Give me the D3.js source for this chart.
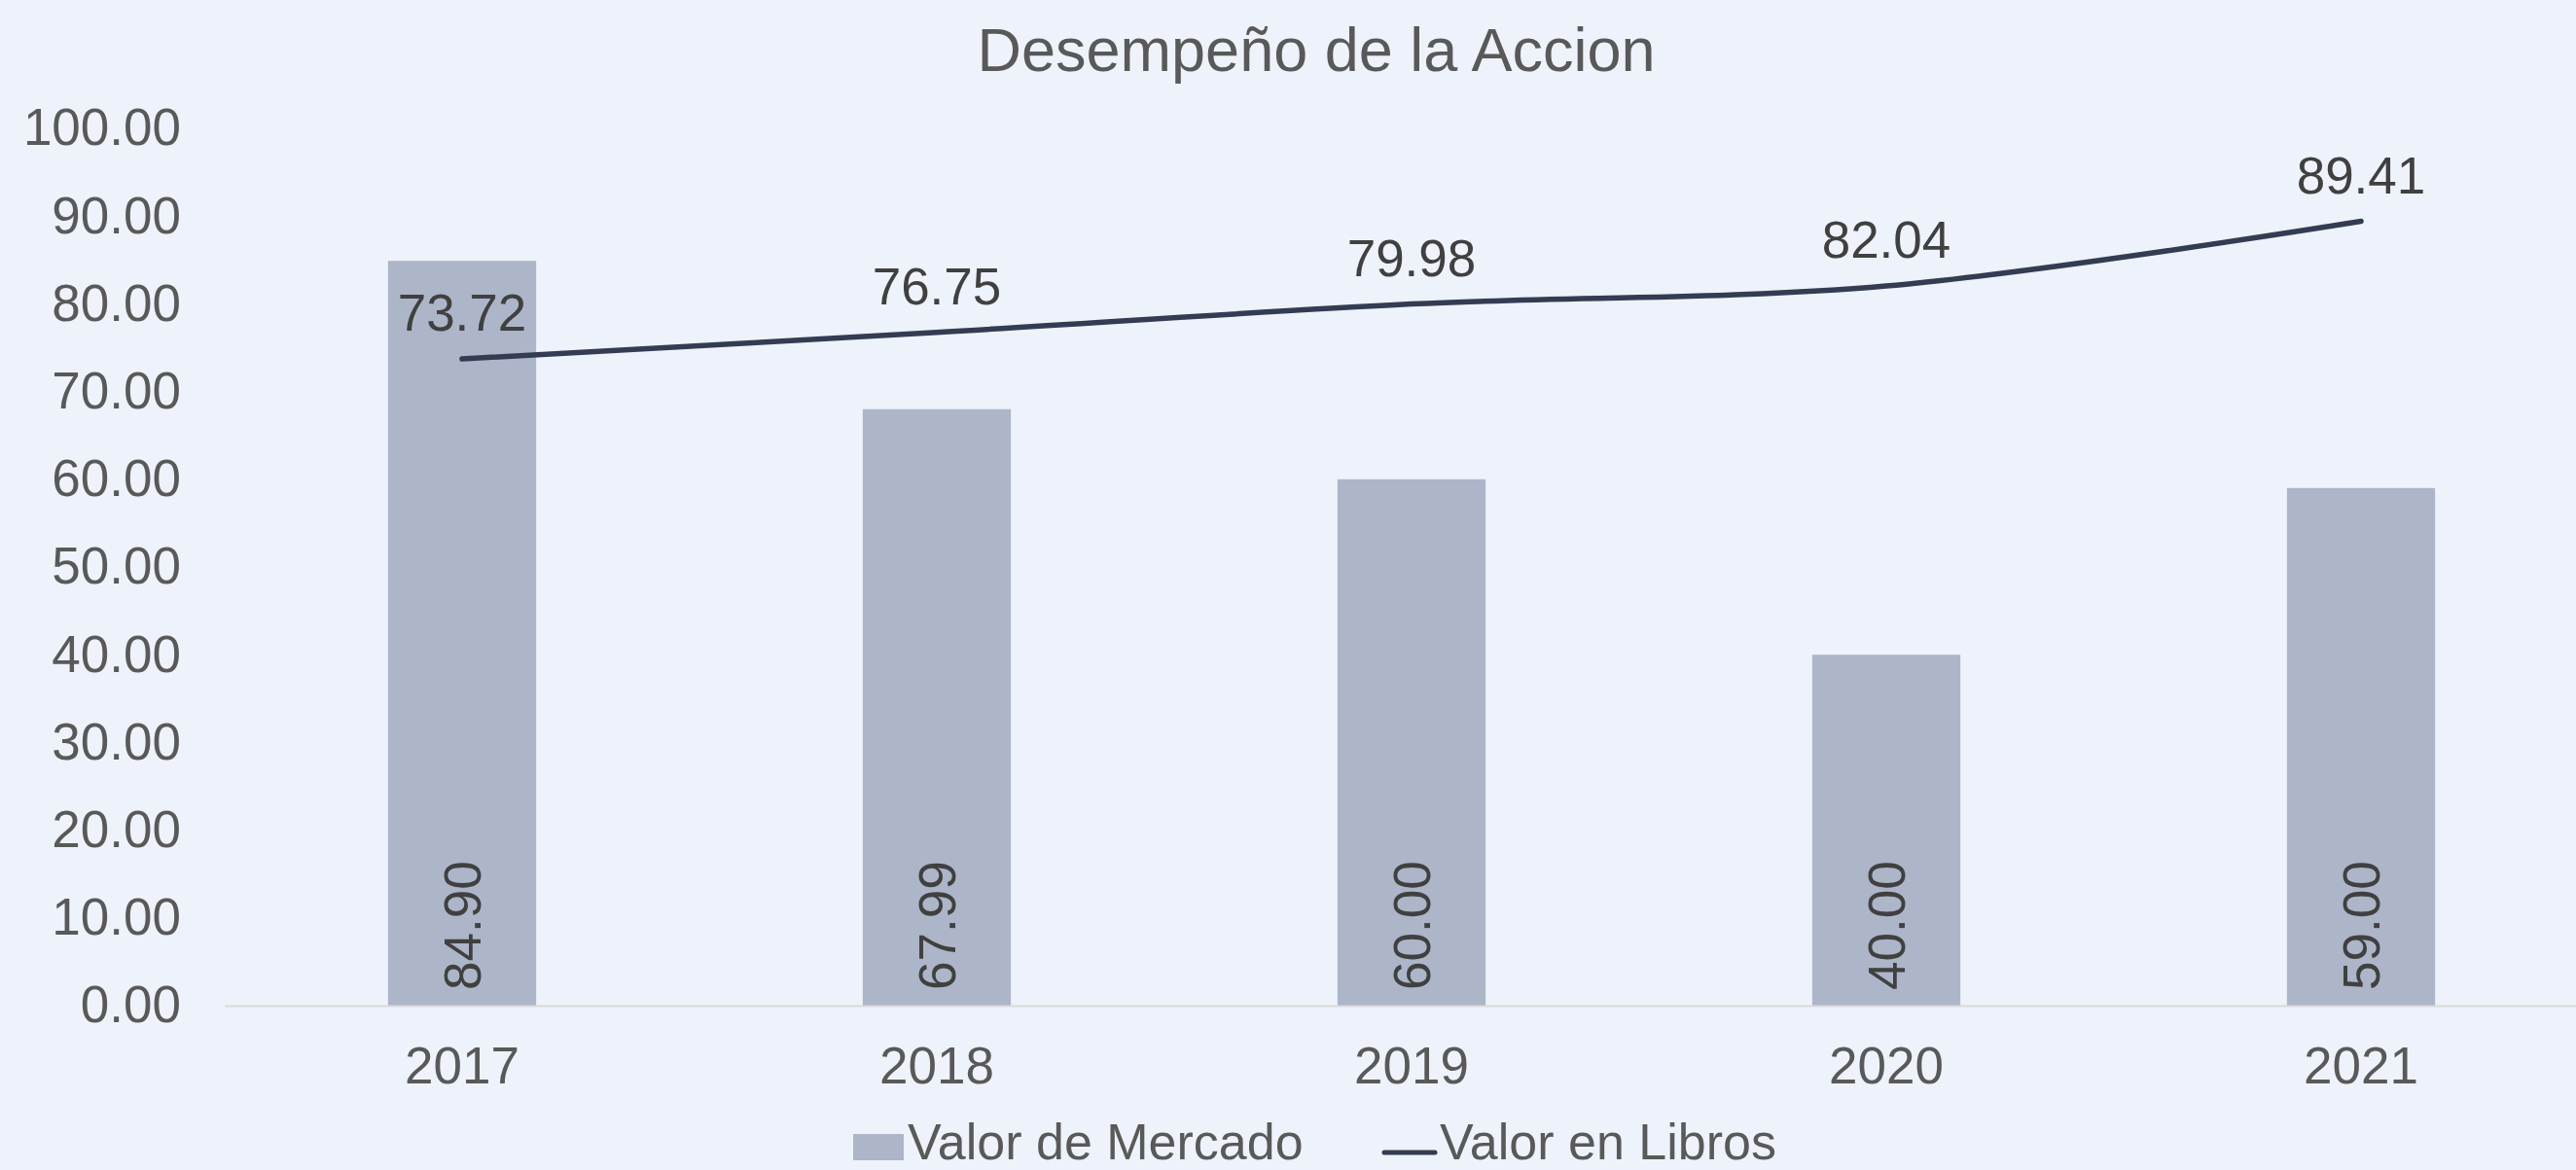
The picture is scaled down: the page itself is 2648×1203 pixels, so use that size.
<!DOCTYPE html>
<html>
<head>
<meta charset="utf-8">
<script src="https://cdn.jsdelivr.net/npm/d3@7"></script>
<style>
  html, body { margin: 0; padding: 0; background: #eef2fa; overflow: hidden; }
  svg { display: block; font-family: "Liberation Sans", Arial, sans-serif; }
</style>
</head>
<body>
<div class="chart"></div>
<script>
const years = ["2017", "2018", "2019", "2020", "2021"];
const mercado = [84.90, 67.99, 60.00, 40.00, 59.00];
const libros = [73.72, 76.75, 79.98, 82.04, 89.41];
const yTicks = [0, 10, 20, 30, 40, 50, 60, 70, 80, 90, 100];

const w = 2648;
const h = 1203;

var svg = d3.select(".chart").append("svg")
    .attr("width", w)
    .attr("height", h);

svg.append("rect").attr("width", w).attr("height", h).attr("fill", "#eef2fa");

// scales
var xScale = d3.scaleBand().domain(years).range([231, 2671]).padding(0);
var yScale = d3.scaleLinear().domain([0, 100]).range([1034, 132]);
var barW = xScale.bandwidth() * 0.312;
var cx = d => xScale(d) + xScale.bandwidth() / 2;

// title
svg.append("text")
    .attr("x", 1353).attr("y", 73)
    .attr("text-anchor", "middle")
    .attr("font-size", 63)
    .attr("fill", "#595959")
    .text("Desempeño de la Accion");

// bars
svg.selectAll(".bar")
    .data(years)
    .enter().append("rect")
    .attr("class", "bar")
    .attr("x", d => cx(d) - barW / 2)
    .attr("y", (d, i) => yScale(mercado[i]))
    .attr("width", barW)
    .attr("height", (d, i) => yScale(0) - yScale(mercado[i]))
    .attr("fill", "#adb5c9");

// x axis
var xAxis = d3.axisBottom(xScale).tickSize(0).tickPadding(42);
var gx = svg.append("g")
    .attr("transform", "translate(0," + yScale(0) + ")")
    .call(xAxis);
gx.select(".domain").attr("stroke", "#d9d9d9").attr("stroke-width", 2);
gx.selectAll("text").attr("font-size", 53).attr("fill", "#595959")
    .attr("font-family", "Liberation Sans, Arial, sans-serif");

// y axis
var yAxis = d3.axisLeft(yScale).tickValues(yTicks).tickSize(0).tickPadding(0)
    .tickFormat(d3.format(".2f"));
var gy = svg.append("g")
    .attr("transform", "translate(186,0)")
    .call(yAxis);
gy.select(".domain").remove();
gy.selectAll("text").attr("font-size", 53).attr("fill", "#595959")
    .attr("font-family", "Liberation Sans, Arial, sans-serif");

// bar labels (rotated)
svg.selectAll(".barlabel")
    .data(years)
    .enter().append("text")
    .attr("class", "barlabel")
    .attr("transform", d => "translate(" + (cx(d) + 19) + "," + (yScale(0) - 16) + ") rotate(-90)")
    .attr("font-size", 53)
    .attr("fill", "#404040")
    .text((d, i) => mercado[i].toFixed(2));

// line
var line = d3.line()
    .x((d, i) => cx(years[i]))
    .y(d => yScale(d))
    .curve(d3.curveCatmullRom.alpha(0.5));

svg.append("path")
    .datum(libros)
    .attr("d", line)
    .attr("fill", "none")
    .attr("stroke", "#333c52")
    .attr("stroke-width", 5.5)
    .attr("stroke-linecap", "round");

svg.selectAll(".linelabel")
    .data(libros)
    .enter().append("text")
    .attr("class", "linelabel")
    .attr("x", (d, i) => cx(years[i]))
    .attr("y", d => yScale(d) - 29)
    .attr("text-anchor", "middle")
    .attr("font-size", 53)
    .attr("fill", "#404040")
    .text(d => d.toFixed(2));

// legend
var legend = svg.append("g");
legend.append("rect")
    .attr("x", 877).attr("y", 1166).attr("width", 52).attr("height", 27)
    .attr("fill", "#adb5c9");
legend.append("text")
    .attr("x", 933).attr("y", 1192)
    .attr("font-size", 52).attr("fill", "#595959")
    .text("Valor de Mercado");
legend.append("line")
    .attr("x1", 1423).attr("x2", 1475).attr("y1", 1185).attr("y2", 1185)
    .attr("stroke", "#333c52").attr("stroke-width", 5).attr("stroke-linecap", "round");
legend.append("text")
    .attr("x", 1480).attr("y", 1192)
    .attr("font-size", 52).attr("fill", "#595959")
    .text("Valor en Libros");
</script>
</body>
</html>
